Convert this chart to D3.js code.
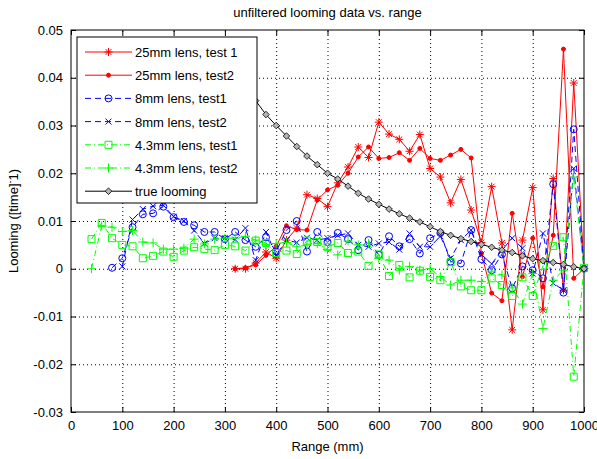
<!DOCTYPE html>
<html>
<head>
<meta charset="utf-8">
<script src="https://cdn.jsdelivr.net/npm/d3@7"></script>
<style>
body { margin: 0; background: #fff; }
text { font-family: "Liberation Sans", Arial, sans-serif; font-size: 13px; fill: #000; }
</style>
</head>
<body>
<svg></svg>
<script>
// chart data
const xTicks = [0, 100, 200, 300, 400, 500, 600, 700, 800, 900, 1000];
const xTickLabels = ["0", "100", "200", "300", "400", "500", "600", "700", "800", "900", "1000"];
const yTicks = [-0.03, -0.02, -0.01, 0, 0.01, 0.02, 0.03, 0.04, 0.05];
const yTickLabels = ["-0.03", "-0.02", "-0.01", "0", "0.01", "0.02", "0.03", "0.04", "0.05"];

const legendNames = ["25mm lens, test 1", "25mm lens, test2", "8mm lens, test1", "8mm lens, test2",
                     "4.3mm lens, test1", "4.3mm lens, test2", "true looming"];

const xRed = [320, 340, 360, 380, 400, 420, 440, 460, 480, 500, 520, 540, 560, 580, 600, 620, 640, 660,
              680, 700, 720, 740, 760, 780, 800, 820, 840, 860, 880, 900, 920, 940, 960, 980, 1000];
const yRed1 = [0.0000, 0.0000, 0.0012, 0.0035, 0.0022, 0.0060, 0.0085, 0.0155, 0.0147, 0.0130, 0.0180, 0.0213,
               0.0255, 0.0233, 0.0307, 0.0282, 0.0271, 0.0246, 0.0281, 0.0210, 0.0192, 0.0138, 0.0187, 0.0123,
               0.0055, 0.0172, 0.0054, -0.0128, 0.0060, 0.0170, -0.0086, 0.0189, -0.0045, 0.0389, 0.0000];
const yRed2 = [0.0000, 0.0002, 0.0008, 0.0028, 0.0047, 0.0090, 0.0082, 0.0081, 0.0144, 0.0165, 0.0175, 0.0200,
               0.0234, 0.0255, 0.0231, 0.0233, 0.0243, 0.0227, 0.0252, 0.0231, 0.0227, 0.0238, 0.0250, 0.0232,
               0.0032, -0.0051, -0.0067, 0.0116, -0.0017, 0.0064, -0.0038, 0.0070, 0.0460, -0.0020, 0.0000];

const xBlue1 = [80, 100, 120, 140, 160, 180, 200, 220, 240, 260, 280, 300, 320, 340, 360, 380, 400, 420, 440, 460,
                480, 500, 520, 540, 560, 580, 600, 620, 640, 660, 680, 700, 720, 740, 760, 780, 800, 820, 840, 860,
                880, 900, 920, 940, 960, 980, 1000];
const yBlue1 = [0.0002, 0.0022, 0.0087, 0.0114, 0.0116, 0.0130, 0.0108, 0.0098, 0.0091, 0.0077,
                0.0077, 0.0062, 0.0077, 0.0060, 0.0046, 0.0066, 0.0036, 0.0081, 0.0100, 0.0036,
                0.0077, 0.0056, 0.0075, 0.0062, 0.0039, 0.0060, 0.0029, 0.0068, 0.0047, 0.0062,
                0.0032, 0.0064, 0.0075, 0.0015, 0.0011, 0.0081, 0.0020, -0.0003, 0.0030, -0.0041,
                0.0005, -0.0003, -0.0020, 0.0177, -0.0050, 0.0292, 0.0000];

const xBlue2 = [100, 120, 140, 160, 180, 200, 220, 240, 260, 280, 300, 320, 340, 360, 380, 400, 420, 440, 460, 480,
                500, 520, 540, 560, 580, 600, 620, 640, 660, 680, 700, 720, 740, 760, 780, 800, 820, 840, 860, 880,
                900, 920, 940, 960, 980, 1000];
const yBlue2 = [0.0005, 0.0103, 0.0125, 0.0131, 0.0133, 0.0109, 0.0100, 0.0080, 0.0053, 0.0064,
                0.0064, 0.0061, 0.0085, 0.0018, 0.0077, 0.0029, 0.0060, 0.0055, 0.0065, 0.0060,
                0.0064, 0.0070, 0.0074, 0.0050, 0.0046, 0.0053, 0.0056, 0.0040, 0.0074, 0.0046,
                0.0046, 0.0068, 0.0022, 0.0060, 0.0081, 0.0030, 0.0010, 0.0039, 0.0064, 0.0043,
                -0.0010, 0.0074, -0.0030, -0.0045, 0.0210, 0.0000];

const xGreen = [40, 60, 80, 100, 120, 140, 160, 180, 200, 220, 240, 260, 280, 300, 320, 340, 360, 380, 400, 420,
                440, 460, 480, 500, 520, 540, 560, 580, 600, 620, 640, 660, 680, 700, 720, 740, 760, 780, 800, 820,
                840, 860, 880, 900, 920, 940, 960, 980, 1000];
const yGreen1 = [0.0062, 0.0096, 0.0064, 0.0050, 0.0047, 0.0022, 0.0027, 0.0036, 0.0025, 0.0038,
                 0.0045, 0.0041, 0.0039, 0.0050, 0.0047, 0.0038, 0.0059, 0.0054, 0.0033, 0.0038,
                 0.0031, 0.0059, 0.0056, 0.0046, 0.0054, 0.0033, 0.0036, 0.0006, 0.0030, -0.0015,
                 0.0008, -0.0018, -0.0004, -0.0017, -0.0024, 0.0014, -0.0037, -0.0045, -0.0045, -0.0020,
                 -0.0034, -0.0057, -0.0018, -0.0057, 0.0006, 0.0048, 0.0066, -0.0226, 0.0002];
const yGreen2 = [0.0000, 0.0090, 0.0087, 0.0078, 0.0080, 0.0056, 0.0054, 0.0041, 0.0041, 0.0043,
                 0.0062, 0.0052, 0.0062, 0.0064, 0.0064, 0.0068, 0.0060, 0.0050, 0.0053, 0.0055,
                 0.0046, 0.0050, 0.0053, 0.0040, 0.0029, 0.0058, 0.0050, 0.0053, 0.0022, 0.0018,
                 -0.0003, 0.0005, -0.0003, 0.0000, -0.0017, -0.0034, -0.0024, -0.0024, -0.0027, -0.0005,
                 -0.0013, -0.0040, -0.0074, -0.0010, -0.0125, -0.0024, -0.0003, 0.0192, 0.0000];

const xTrue = xRed;
const yTrue = [0.0420, 0.0385, 0.0352, 0.0323, 0.0300, 0.0278, 0.0256, 0.0236, 0.0218, 0.0200, 0.0188, 0.0173,
               0.0158, 0.0146, 0.0135, 0.0125, 0.0115, 0.0106, 0.0098, 0.0088, 0.0078, 0.0070, 0.0063, 0.0057,
               0.0051, 0.0045, 0.0039, 0.0034, 0.0027, 0.0021, 0.0017, 0.0013, 0.0009, 0.0004, 0.0000];

// canvas and plot box
const w = 597, h = 459;
const padLeft = 71, padRight = 584, padTop = 30, padBottom = 412;

const svg = d3.select("svg").attr("width", w).attr("height", h);

const xScale = d3.scaleLinear().domain([0, 1000]).range([padLeft, padRight]);
const yScale = d3.scaleLinear().domain([-0.03, 0.05]).range([padBottom, padTop]);

// series table built from the arrays above
const series = [
  { x: xRed, y: yRed1, color: "#ff0000", dash: null, marker: "star" },
  { x: xRed, y: yRed2, color: "#ff0000", dash: null, marker: "dot" },
  { x: xBlue1, y: yBlue1, color: "#0000ff", dash: "6,4", marker: "circle" },
  { x: xBlue2, y: yBlue2, color: "#0000ff", dash: "6,4", marker: "x" },
  { x: xGreen, y: yGreen1, color: "#00ff00", dash: "6,3,1,3", marker: "square" },
  { x: xGreen, y: yGreen2, color: "#00ff00", dash: "6,3,1,3", marker: "plus" },
  { x: xTrue, y: yTrue, color: "#000000", dash: null, marker: "diamond" }
];

// grid lines (dotted)
svg.append("g")
   .attr("class", "grid")
   .attr("transform", "translate(0," + padBottom + ")")
   .call(d3.axisBottom(xScale).tickValues(xTicks.slice(1, -1)).tickSize(-(padBottom - padTop)).tickFormat(""));
svg.append("g")
   .attr("class", "grid")
   .attr("transform", "translate(" + padLeft + ",0)")
   .call(d3.axisLeft(yScale).tickValues(yTicks.slice(1, -1)).tickSize(-(padRight - padLeft)).tickFormat(""));
svg.selectAll(".grid .domain").remove();
svg.selectAll(".grid line").attr("stroke", "#000").attr("stroke-dasharray", "1,3");

// axes, ticks pointing inwards
svg.append("g")
   .attr("class", "ax")
   .attr("transform", "translate(0," + padBottom + ")")
   .call(d3.axisBottom(xScale).tickValues(xTicks).tickSizeInner(-5).tickSizeOuter(0).tickPadding(9)
         .tickFormat((d, i) => xTickLabels[i]));
svg.append("g")
   .attr("class", "ax")
   .attr("transform", "translate(0," + padTop + ")")
   .call(d3.axisTop(xScale).tickValues(xTicks).tickSizeInner(-5).tickSizeOuter(0).tickFormat(""));
svg.append("g")
   .attr("class", "ax")
   .attr("transform", "translate(" + padLeft + ",0)")
   .call(d3.axisLeft(yScale).tickValues(yTicks).tickSizeInner(-5).tickSizeOuter(0).tickPadding(8)
         .tickFormat((d, i) => yTickLabels[i]));
svg.append("g")
   .attr("class", "ax")
   .attr("transform", "translate(" + padRight + ",0)")
   .call(d3.axisRight(yScale).tickValues(yTicks).tickSizeInner(-5).tickSizeOuter(0).tickFormat(""));
svg.selectAll(".ax .domain").remove();
svg.selectAll(".ax line").attr("stroke", "#000");
svg.selectAll(".ax text").attr("font-size", 13).attr("font-family", "Liberation Sans, Arial, sans-serif");

svg.append("rect")
   .attr("x", padLeft).attr("y", padTop)
   .attr("width", padRight - padLeft).attr("height", padBottom - padTop)
   .attr("fill", "none").attr("stroke", "#000");

// marker shapes like matlab's
function markerPath(type) {
  if (type === "star") {
    const s = 4, k = 2.9;
    return `M${-s},0H${s}M0,${-s}V${s}M${-k},${-k}L${k},${k}M${-k},${k}L${k},${-k}`;
  }
  if (type === "x") return "M-3,-3L3,3M-3,3L3,-3";
  if (type === "plus") return "M-4.5,0H4.5M0,-4.5V4.5";
  if (type === "square") return "M-3.5,-3.5H3.5V3.5H-3.5Z";
  if (type === "diamond") return "M0,-3.3L3.3,0L0,3.3L-3.3,0Z";
  if (type === "circle") return "M3.5,0A3.5,3.5,0,1,1,-3.5,0A3.5,3.5,0,1,1,3.5,0Z";
  return "M2,0A2,2,0,1,1,-2,0A2,2,0,1,1,2,0Z"; // dot
}

function drawMarker(g, type, color, px, py) {
  g.append("path")
   .attr("d", markerPath(type))
   .attr("transform", "translate(" + px + "," + py + ")")
   .attr("fill", type === "dot" ? color : (type === "diamond" ? "#b4b4b4" : "none"))
   .attr("stroke", color)
   .attr("stroke-width", type === "diamond" ? 0.8 : 1);
}

const line = d3.line().x(d => xScale(d[0])).y(d => yScale(d[1]));

series.forEach((s) => {
  const pts = s.x.map((v, i) => [v, s.y[i]]);
  const g = svg.append("g");
  g.append("path")
   .datum(pts)
   .attr("d", line)
   .attr("fill", "none")
   .attr("stroke", s.color)
   .attr("stroke-width", 1)
   .attr("stroke-dasharray", s.dash);
  pts.forEach((p) => drawMarker(g, s.marker, s.color, xScale(p[0]), yScale(p[1])));
});

// legend box
const lg = svg.append("g");
lg.append("rect")
  .attr("x", 77).attr("y", 37).attr("width", 180).attr("height", 166)
  .attr("fill", "#fff").attr("stroke", "#000");
series.forEach((s, i) => {
  const ly = 52 + i * 23.2;
  lg.append("line")
    .attr("x1", 85).attr("x2", 132).attr("y1", ly).attr("y2", ly)
    .attr("stroke", s.color).attr("stroke-width", 1)
    .attr("stroke-dasharray", s.dash);
  drawMarker(lg, s.marker, s.color, 108.5, ly);
  lg.append("text")
    .attr("x", 135).attr("y", ly + 5)
    .text(legendNames[i]);
});

// title and axis labels
svg.append("text")
   .attr("x", (padLeft + padRight) / 2).attr("y", 17)
   .attr("text-anchor", "middle")
   .text("unfiltered looming data vs. range");
svg.append("text")
   .attr("x", (padLeft + padRight) / 2).attr("y", 451)
   .attr("text-anchor", "middle")
   .text("Range (mm)");
const yl = svg.append("text")
   .attr("transform", "translate(18," + ((padTop + padBottom) / 2) + ") rotate(-90)")
   .attr("text-anchor", "middle");
yl.append("tspan").text("Looming ([time]");
yl.append("tspan").attr("baseline-shift", "super").attr("font-size", 9).text("-");
yl.append("tspan").text("1)");
</script>
</body>
</html>
